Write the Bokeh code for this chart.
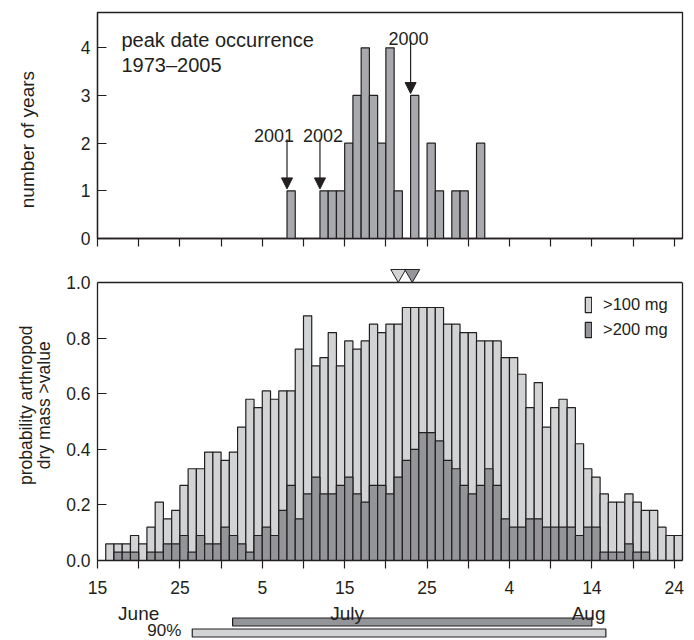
import math
from bokeh.plotting import figure
from bokeh.layouts import column, row
from bokeh.models import (Range1d, FixedTicker, Label, Arrow, NormalHead, Span,
                          Legend, LegendItem, PrintfTickFormatter, LinearAxis)
from bokeh.core.properties import value
from bokeh.embed import file_html
from bokeh.resources import INLINE

FONT = "Liberation Sans"
INK = "#231f20"
TOPC = "#a7a9ac"
LIGHT = "#d1d3d4"
DARK = "#939598"

# ---------------- data ----------------
# day index: 0 = 15 June, 70 = 24 August
major_days = [0, 10, 20, 30, 40, 50, 60, 70]
major_labels = ["15", "25", "5", "15", "25", "4", "14", "24"]
minor_days = [5, 15, 25, 35, 45, 55, 65]
month_names = ["June", "July", "Aug"]
month_days = [5, 30.3, 59.6]

# top panel: peak date occurrence 1973-2005
peak_day = [23, 27, 28, 29, 30, 31, 32, 33, 34, 35, 36, 38, 40, 41, 43, 44, 46]
peak_years = [1, 1, 1, 1, 2, 3, 4, 3, 2, 4, 1, 3, 2, 1, 1, 1, 2]
annot_years = ["2001", "2002", "2000"]
annot_day = [23, 27, 38]

# bottom panel: daily probability
day = list(range(1, 71))
p100 = [0.06, 0.06, 0.06, 0.09, 0.06, 0.12, 0.21, 0.15, 0.18, 0.27,
        0.33, 0.33, 0.39, 0.39, 0.36, 0.39, 0.48, 0.58, 0.55, 0.61,
        0.58, 0.61, 0.61, 0.76, 0.88, 0.70, 0.73, 0.82, 0.70, 0.79,
        0.76, 0.79, 0.85, 0.82, 0.85, 0.85, 0.91, 0.91, 0.91, 0.91,
        0.91, 0.85, 0.85, 0.82, 0.82, 0.79, 0.79, 0.79, 0.73, 0.73,
        0.67, 0.55, 0.64, 0.48, 0.55, 0.58, 0.55, 0.42, 0.33, 0.30,
        0.24, 0.21, 0.21, 0.24, 0.21, 0.18, 0.18, 0.12, 0.09, 0.09]
p200 = [0.00, 0.03, 0.03, 0.03, 0.00, 0.03, 0.03, 0.06, 0.06, 0.09,
        0.03, 0.09, 0.06, 0.06, 0.12, 0.09, 0.06, 0.03, 0.09, 0.12,
        0.09, 0.18, 0.27, 0.15, 0.24, 0.30, 0.24, 0.24, 0.27, 0.30,
        0.24, 0.21, 0.27, 0.27, 0.24, 0.30, 0.36, 0.40, 0.46, 0.46,
        0.43, 0.36, 0.33, 0.27, 0.24, 0.27, 0.33, 0.27, 0.15, 0.12,
        0.12, 0.15, 0.15, 0.12, 0.12, 0.12, 0.12, 0.09, 0.12, 0.12,
        0.03, 0.03, 0.03, 0.06, 0.03, 0.03, 0.00, 0.00, 0.00, 0.00]
series_names = [">100 mg", ">200 mg"]
mean_peak = [36.5, 38.2]           # triangles (>100 mg, >200 mg)
range90_100 = [11.5, 61.7]
range90_200 = [16.4, 60.0]
y_ticks_top = [0, 1, 2, 3, 4]
y_ticks_bot = [0, 0.2, 0.4, 0.6, 0.8, 1.0]
ylabel_top = "number of years"
ylabel_bot = ["probability arthropod", "dry mass >value"]

# ---------------- layout constants ----------------
W = 692          # full width
LW = 57          # width of the y-label column
RB = 10
xr = Range1d(0, 71)


def make_fig(w, h, yr, left, top, bottom, xaxis=True, yaxis=True, outline=True,
             x_range=None):
    kw = dict(width=w, height=h, x_range=x_range if x_range is not None else xr,
              y_range=yr, output_backend="svg",
              toolbar_location=None, min_border_left=left, min_border_right=RB,
              min_border_top=top, min_border_bottom=bottom,
              background_fill_color="white", border_fill_color="white",
              outline_line_color=INK if outline else None, outline_line_width=1.3)
    if not xaxis:
        kw["x_axis_location"] = None
    if not yaxis:
        kw["y_axis_location"] = None
    p = figure(**kw)
    p.xgrid.visible = False
    p.ygrid.visible = False
    return p


def style_axis(a):
    a.axis_line_color = INK
    a.axis_line_width = 1.3
    a.major_tick_line_color = INK
    a.major_tick_line_width = 1.2
    a.minor_tick_line_color = INK
    a.minor_tick_line_width = 1.2
    a.major_label_text_font = FONT
    a.major_label_text_color = INK
    a.major_label_text_font_size = "17.5px"


def style_y(p, yticks):
    ya = p.yaxis[0]
    style_axis(ya)
    ya.ticker = FixedTicker(ticks=yticks)
    ya.major_tick_in = 9
    ya.major_tick_out = 0
    ya.minor_tick_in = 0
    ya.minor_tick_out = 0
    ya.major_label_standoff = 7
    return ya


def label_fig(h):
    lf = make_fig(LW, h, Range1d(0, h), 0, 0, 0, xaxis=False, yaxis=False,
                  outline=False, x_range=Range1d(0, LW))
    lf.min_border_right = 0
    return lf


# ---------------- top panel ----------------
TOP_H = 252
top = make_fig(W - LW, TOP_H, Range1d(0, 4.74), 97 - LW, 12, 14)
style_y(top, y_ticks_top)
txa = top.xaxis[0]
style_axis(txa)
# tick marks only (no labels) on the top panel's date axis
txa.ticker = FixedTicker(ticks=[], minor_ticks=sorted(major_days + minor_days))
txa.major_tick_in = 0
txa.major_tick_out = 0
txa.minor_tick_in = 0
txa.minor_tick_out = 8
txa.major_label_standoff = 0

top.quad(left=peak_day, right=[d + 1 for d in peak_day], bottom=0, top=peak_years,
         fill_color=TOPC, line_color=INK, line_width=1.2)

for txt, yy in (("peak date occurrence", 199), ("1973\u20132005", 174)):
    top.add_layout(Label(x=24, y=yy, x_units="screen", y_units="screen", text=txt,
                         text_baseline="alphabetic", text_font=FONT,
                         text_font_size="20px", text_color=INK))

count_at = dict(zip(peak_day, peak_years))
arrow_top = [2.08, 2.08, 4.155]
label_y = [2.15, 2.15, 4.2]
label_dx = [-13, 3, -2]
for yr_txt, d, at, ly, dx in zip(annot_years, annot_day, arrow_top, label_y, label_dx):
    top.add_layout(Arrow(end=NormalHead(size=11, fill_color=INK, line_color=INK,
                                        line_width=1),
                         x_start=d, y_start=at, x_end=d, y_end=count_at[d] + 0.04,
                         line_color=INK, line_width=1.2))
    top.text(x=[d], y=[ly], text=[yr_txt], x_offset=dx, text_align="center",
             text_baseline="alphabetic", text_font=value(FONT),
             text_font_size="18px", text_color=INK)

lab_top = label_fig(TOP_H)
lab_top.text(x=[27], y=[TOP_H - 141.7], text=[ylabel_top], angle=math.pi / 2,
             text_align="center", text_baseline="middle", text_font=value(FONT),
             text_font_size="19px", text_color=INK)

# ---------------- bottom panel ----------------
# frame extends 14 px above y = 1.0 to hold the mean-peak triangles
BOT_TOP, BOT_FRAME, BOT_BOTTOM = 16, 292, 40
BOT_H = BOT_TOP + BOT_FRAME + BOT_BOTTOM
PX = 278.0                      # pixels per unit probability
bot = make_fig(W - LW, BOT_H, Range1d(0, BOT_FRAME / PX), 97 - LW, BOT_TOP,
               BOT_BOTTOM, outline=False)
bya = style_y(bot, y_ticks_bot)
bya.formatter = PrintfTickFormatter(format="%.1f")
bya.bounds = (0, 1.0)
rax = LinearAxis(ticker=FixedTicker(ticks=[]), bounds=(0, 1.0),
                 axis_line_color=INK, axis_line_width=1.3,
                 major_tick_in=0, major_tick_out=0, minor_tick_in=0,
                 minor_tick_out=0)
bot.add_layout(rax, "right")
bot.add_layout(Span(location=1.0, dimension="width", line_color=INK,
                    line_width=1.3))

xa = bot.xaxis[0]
style_axis(xa)
xa.ticker = FixedTicker(ticks=major_days, minor_ticks=minor_days)
xa.major_tick_in = 0
xa.major_tick_out = 8
xa.minor_tick_in = 0
xa.minor_tick_out = 8
xa.major_label_overrides = {d: s for d, s in zip(major_days, major_labels)}
xa.major_label_standoff = 12

right = [d + 1 for d in day]
r1 = bot.quad(left=day, right=right, bottom=0, top=p100,
              fill_color=LIGHT, line_color=INK, line_width=1.2)
r2 = bot.quad(left=day, right=right, bottom=0, top=p200,
              fill_color=DARK, line_color=INK, line_width=1.2)

tri_y = 1.0 + 8.7 / PX          # apex touching the panel's top edge
bot.scatter(x=[mean_peak[0]], y=[tri_y], marker="inverted_triangle", size=15,
            fill_color=LIGHT, line_color=INK, line_width=1)
bot.scatter(x=[mean_peak[1]], y=[tri_y], marker="inverted_triangle", size=15,
            fill_color=DARK, line_color=INK, line_width=1)

leg = Legend(items=[LegendItem(label=series_names[0], renderers=[r1]),
                    LegendItem(label=series_names[1], renderers=[r2])],
             location=(487, 221), margin=0, padding=8, spacing=5,
             glyph_width=8, glyph_height=19, label_height=20, label_standoff=11,
             label_text_font=FONT, label_text_font_size="16.5px",
             label_text_color=INK, border_line_color=None,
             background_fill_alpha=0)
bot.add_layout(leg)

lab_bot = label_fig(BOT_H)
lab_bot.text(x=[25.5, 43.5], y=[185, 185], text=ylabel_bot,
             angle=math.pi / 2, text_align="center", text_baseline="middle",
             text_font=value(FONT), text_font_size="17.5px", text_color=INK)

# ---------------- months + 90% ranges ----------------
strip = make_fig(W, 40, Range1d(0, 40), 97, 0, 0, xaxis=False, yaxis=False,
                 outline=False)
strip.hbar(y=[18.5], height=8, left=[range90_200[0]], right=[range90_200[1]],
           fill_color=DARK, line_color=INK, line_width=1.2)
strip.hbar(y=[7.5], height=8, left=[range90_100[0]], right=[range90_100[1]],
           fill_color=LIGHT, line_color=INK, line_width=1.2)
strip.text(x=month_days, y=[26.7] * 3, text=month_names, text_align="center",
           text_baseline="alphabetic", text_font=value(FONT),
           text_font_size="19px", text_color=INK)
strip.text(x=[range90_100[0]], y=[10.5], text=["90%"], x_offset=-11,
           text_align="right", text_baseline="middle", text_font=value(FONT),
           text_font_size="17px", text_color=INK)

layout = column(row(lab_top, top, spacing=0), row(lab_bot, bot, spacing=0),
                strip, spacing=0)
open("out.html", "w").write(file_html(layout, INLINE))
